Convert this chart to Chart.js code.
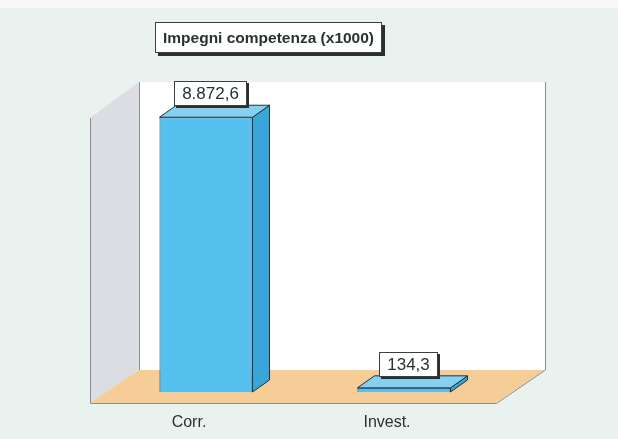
<!DOCTYPE html>
<html>
<head>
<meta charset="utf-8">
<script src="https://cdn.jsdelivr.net/npm/chart.js@4/dist/chart.umd.min.js"></script>
<style>
html,body{margin:0;padding:0;background:#e9f2ef;}
canvas{display:block;}
</style>
</head>
<body>
<canvas id="c" width="618" height="439"></canvas>
<script>
const categories = ['Corr.', 'Invest.'];
const values = [8872.6, 134.3];
const chartTitle = 'Impegni competenza (x1000)';
const yMax = 9300;

const FONT = 'Arial, "Liberation Sans", sans-serif';
const DX = 17, DY = -12;        // bar depth
const WX = 32, WY = -22;        // back wall offset from front plane
const FX = -17, FY = 11;        // floor front offset from front plane

function fmtIt(v) {
  const parts = v.toFixed(1).split('.');
  const int = parts[0].replace(/\B(?=(\d{3})+(?!\d))/g, '.');
  return int + ',' + parts[1];
}

function poly(ctx, pts, fill, stroke, lw) {
  ctx.beginPath();
  ctx.moveTo(pts[0][0], pts[0][1]);
  for (let i = 1; i < pts.length; i++) ctx.lineTo(pts[i][0], pts[i][1]);
  ctx.closePath();
  if (fill) { ctx.fillStyle = fill; ctx.fill(); }
  if (stroke) { ctx.strokeStyle = stroke; ctx.lineWidth = lw || 1; ctx.stroke(); }
}

function boxLabel(ctx, text, cx, bottom, font, padX, h, shadow) {
  ctx.save();
  ctx.font = font;
  const w = Math.round(ctx.measureText(text).width + padX * 2);
  const x = Math.round(cx - w / 2), y = Math.round(bottom - h);
  ctx.fillStyle = '#2b2f2f';
  ctx.fillRect(x + shadow, y + shadow, w, h);
  ctx.fillStyle = '#ffffff';
  ctx.fillRect(x, y, w, h);
  ctx.strokeStyle = '#3a3f3f';
  ctx.lineWidth = 1;
  ctx.strokeRect(x + 0.5, y + 0.5, w - 1, h - 1);
  ctx.fillStyle = '#2a3232';
  ctx.textAlign = 'center';
  ctx.textBaseline = 'middle';
  ctx.fillText(text, x + w / 2, y + h / 2 + 1);
  ctx.restore();
}

const scene3d = {
  id: 'scene3d',
  beforeDraw(chart) {
    const ctx = chart.ctx;
    ctx.save();
    ctx.fillStyle = '#e9f2ef';
    ctx.fillRect(0, 0, chart.width, chart.height);
    ctx.fillStyle = '#f6f9f8';
    ctx.fillRect(0, 0, chart.width, 8);
    ctx.restore();
  },
  beforeDatasetsDraw(chart) {
    const ctx = chart.ctx;
    const a = chart.chartArea;
    const L = a.left, T = a.top, B = a.bottom, R = a.right + 10;
    ctx.save();
    // back wall
    poly(ctx, [[L + WX, T + WY], [R + WX, T + WY], [R + WX, B + WY], [L + WX, B + WY]], '#ffffff');
    // left wall
    poly(ctx, [[L + FX, T + FY + 3], [L + WX, T + WY], [L + WX, B + WY], [L + FX, B + FY]], '#dcdde2');
    // floor
    poly(ctx, [[L + FX, B + FY], [R + FX, B + FY], [R + WX, B + WY], [L + WX, B + WY]], '#f6cd96');
    // edges
    ctx.strokeStyle = '#8a9090';
    ctx.lineWidth = 1;
    ctx.beginPath();
    ctx.moveTo(L + WX + 0.5, T + WY); ctx.lineTo(L + WX + 0.5, B + WY);
    ctx.moveTo(R + WX + 0.5, T + WY); ctx.lineTo(R + WX + 0.5, B + WY);
    ctx.lineTo(R + FX + 0.5, B + FY + 0.5);
    ctx.lineTo(L + FX + 0.5, B + FY + 0.5);
    ctx.lineTo(L + FX + 0.5, T + FY + 3);
    ctx.stroke();
    ctx.restore();
  },
  afterDatasetsDraw(chart) {
    const ctx = chart.ctx;
    const meta = chart.getDatasetMeta(0);
    ctx.save();
    meta.data.forEach((bar) => {
      const p = bar.getProps(['x', 'y', 'base', 'width'], true);
      const l = p.x - p.width / 2, r = p.x + p.width / 2;
      const top = p.y, base = p.base;
      // side
      poly(ctx, [[r, top], [r + DX, top + DY], [r + DX, base + DY], [r, base]], '#3aa5d8', '#1f3440', 1);
      // top
      poly(ctx, [[l, top], [l + DX, top + DY], [r + DX, top + DY], [r, top]], '#86d1f2', '#1f3440', 1);
    });
    meta.data.forEach((bar, i) => {
      const p = bar.getProps(['x', 'y', 'width'], true);
      boxLabel(ctx, fmtIt(values[i]), p.x + 4, p.y + DY + 1, '17px ' + FONT, 8, 25, 2);
    });
    // title box
    boxLabel(ctx, chartTitle, 268, 53, 'bold 15.5px ' + FONT, 8, 31, 3);
    ctx.restore();
  }
};

new Chart(document.getElementById('c'), {
  type: 'bar',
  data: {
    labels: categories,
    datasets: [{
      data: values,
      backgroundColor: '#56c1ef',
      borderColor: '#1f3440',
      borderWidth: 1,
      barPercentage: 0.47,
      categoryPercentage: 1
    }]
  },
  options: {
    responsive: false,
    animation: false,
    events: [],
    layout: { padding: { left: 107, right: 115, top: 104, bottom: 11 } },
    plugins: { legend: { display: false }, tooltip: { enabled: false }, title: { display: false } },
    scales: {
      x: {
        grid: { display: false },
        border: { display: false },
        ticks: { color: '#2a3030', font: { family: FONT, size: 16 }, padding: 13, labelOffset: -17 },
        afterFit: (scale) => { scale.height = 36; }
      },
      y: { display: false, min: 0, max: yMax }
    }
  },
  plugins: [scene3d]
});
</script>
</body>
</html>
